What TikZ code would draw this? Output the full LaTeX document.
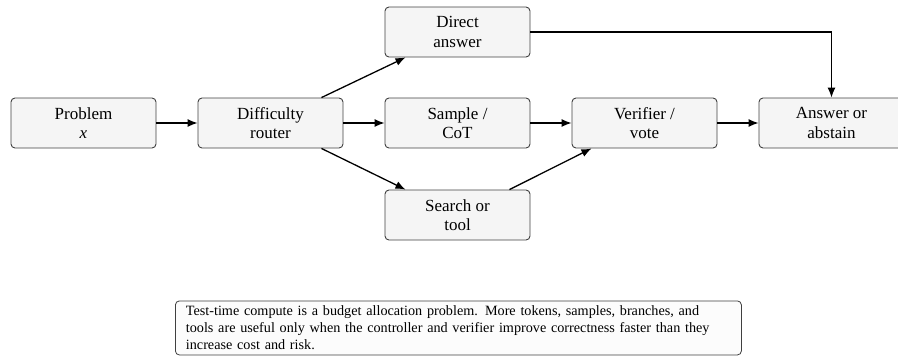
\documentclass[tikz,border=0pt]{standalone}
\usepackage{fontspec}
\setmainfont{Liberation Serif}
\usetikzlibrary{arrows.meta,calc}
\begin{document}
\begin{tikzpicture}[x=1pt,y=1pt,
  box/.style={draw=black!75, line width=0.9pt, fill=black!4, rounded corners=4pt,
    minimum width=145pt, minimum height=50pt, align=center, inner sep=2pt,
    font=\fontsize{17}{19.3}\selectfont},
  arr/.style={line width=1.3pt, -{Latex[length=10pt,width=8pt]}},
  notebox/.style={draw=black!75, line width=0.8pt, fill=black!1, rounded corners=4pt,
    text width=545pt, align=left, inner xsep=10.5pt, inner ysep=5pt, anchor=north west,
    font=\fontsize{14.2}{17}\selectfont}]
\useasboundingbox (0,0) rectangle (898,-360);
\node[box] (problem) at (83.5,-123) {Problem\\\textit{x}};
\node[box] (router) at (270.5,-123) {Difficulty\\router};
\node[box] (direct) at (457.5,-32) {Direct\\answer};
\node[box] (sample) at (457.5,-123) {Sample /\\CoT};
\node[box] (search) at (457.5,-215) {Search or\\tool};
\node[box] (verifier) at (644.5,-123) {Verifier /\\vote};
\node[box] (answer) at (831.5,-123) {Answer or\\abstain};
\node[notebox] (note) at (175,-300.5) {Test-time compute is a budget allocation problem. More tokens, samples, branches, and tools are useful only when the controller and verifier improve correctness faster than they increase cost and risk.};
\draw[arr] (problem) -- (router);
\draw[arr] (router) -- (sample);
\draw[arr] ([xshift=51pt]router.north) -- ([xshift=-52pt]direct.south);
\draw[arr] ([xshift=51pt]router.south) -- ([xshift=-52pt]search.north);
\draw[arr] (sample) -- (verifier);
\draw[arr] ([xshift=52pt]search.north) -- ([xshift=-53pt]verifier.south);
\draw[arr] (verifier) -- (answer);
\draw[arr] (direct.east) -| (answer.north);
\end{tikzpicture}
\end{document}
